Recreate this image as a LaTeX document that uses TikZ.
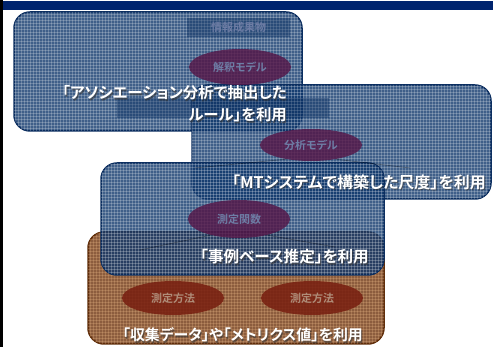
\documentclass[tikz,border=0pt]{standalone}
\usepackage{fontspec}
\newfontfamily\jp{Noto Sans CJK JP}[RawFeature=+palt, BoldFont={Noto Sans CJK JP Bold}]
\usetikzlibrary{shapes.geometric,patterns}
\definecolor{navybar}{RGB}{0,36,110}
\definecolor{boxblue}{RGB}{15,55,108}
\definecolor{boxedge}{RGB}{10,45,95}
\definecolor{boxbrown}{RGB}{115,58,20}
\definecolor{brownedge}{RGB}{95,45,10}
\definecolor{maroon}{RGB}{85,20,70}
\definecolor{redbrown}{RGB}{120,30,15}
\definecolor{fainttxt}{RGB}{110,125,165}
\definecolor{faintbrown}{RGB}{175,140,120}
\tikzset{
  bluebox/.style={draw=boxedge, line width=1.5pt, fill=boxblue, fill opacity=0.8, rounded corners=16pt},
  brownbox/.style={draw=brownedge, line width=1.5pt, fill=boxbrown, fill opacity=0.82, rounded corners=16pt},
  texture/.style={pattern=grid, pattern color=white, opacity=0.22, rounded corners=16pt},
  modelell/.style={ellipse, fill=maroon, fill opacity=0.8, text opacity=1, minimum width=102pt, minimum height=36pt, inner sep=0pt, font=\jp\bfseries\fontsize{11}{12}\selectfont, text=fainttxt},
  methodell/.style={ellipse, fill=redbrown, fill opacity=0.85, text opacity=1, minimum width=102pt, minimum height=34pt, inner sep=0pt, font=\jp\bfseries\fontsize{11}{12}\selectfont, text=faintbrown},
  faintrect/.style={fill=boxedge, fill opacity=0.4, text opacity=1, inner sep=0pt, font=\jp\bfseries\fontsize{11}{12}\selectfont, text=fainttxt},
  lbl/.style={inner sep=0pt, anchor=east, text=white, font=\jp\bfseries\fontsize{15.4}{17}\selectfont},
  shadowlbl/.style={inner sep=0pt, anchor=east, text=black!80, opacity=0.6, font=\jp\bfseries\fontsize{15.4}{17}\selectfont},
  faintline/.style={draw=black, opacity=0.35, line width=0.6pt}
}
\begin{document}
\begin{tikzpicture}[x=1pt,y=-1pt]
\useasboundingbox (0,0) rectangle (493,347);
\fill[white] (0,0) rectangle (493,347);
% frame
\fill[navybar] (0,1) rectangle (493,10);
\fill[black] (0,0) rectangle (2.5,347);

% brown bottom box
\path[brownbox] (88,232) rectangle (384,344);
\path[texture, pattern color=orange!40!white] (88,232) rectangle (384,344);
% blue boxes
\path[bluebox] (14,12) rectangle (302,131);
\path[texture] (14,12) rectangle (302,131);
\path[bluebox] (192,85) rectangle (491,199);
\path[texture] (192,85) rectangle (491,199);
\path[bluebox] (101,163) rectangle (384,275);
\path[texture] (101,163) rectangle (384,275);

% faint hidden rectangles
\node[faintrect, minimum width=103pt, minimum height=19pt] (info) at (238.5,27.5) {情報成果物};
\node[faintrect, minimum width=212pt, minimum height=20pt] (indic) at (223,108) {};

% ellipses
\node[modelell] (interp) at (240,67) {解釈モデル};
\node[modelell, minimum height=32pt] (anal) at (311,145) {分析モデル};
\node[modelell, minimum height=38pt] (func) at (239,219) {測定関数};
\node[methodell] (meth1) at (173,298) {測定方法};
\node[methodell] (meth2) at (312,298) {測定方法};

% faint connector lines
\coordinate (a1) at (195,168);
\coordinate (a2) at (410,168);
\coordinate (f1) at (140,250);
\coordinate (f2) at (335,247);
\draw[faintline] (anal.210) -- (a1);
\draw[faintline] (anal.330) -- (a2);
\draw[faintline] (func.210) -- (f1);
\draw[faintline] (func.330) -- (f2);

% labels with shadow
\node[shadowlbl] at (288,94.5) {「アソシエーション分析で抽出した};
\node[lbl] (t1) at (287,93) {「アソシエーション分析で抽出した};
\node[shadowlbl] at (288,116.5) {ルール」を利用};
\node[lbl] (t2) at (287,115) {ルール」を利用};

\node[shadowlbl, font=\jp\bfseries\fontsize{16}{18}\selectfont] at (487,183.5) {「MTシステムで構築した尺度」を利用};
\node[lbl, font=\jp\bfseries\fontsize{16}{18}\selectfont] (t3) at (486,182) {「MTシステムで構築した尺度」を利用};

\node[shadowlbl, font=\jp\bfseries\fontsize{15.6}{17}\selectfont] at (370,258.5) {「事例ベース推定」を利用};
\node[lbl, font=\jp\bfseries\fontsize{15.6}{17}\selectfont] (t4) at (369,257) {「事例ベース推定」を利用};

\node[shadowlbl, font=\jp\bfseries\fontsize{14.9}{16}\selectfont] at (364,336.5) {「収集データ」や「メトリクス値」を利用};
\node[lbl, font=\jp\bfseries\fontsize{14.9}{16}\selectfont] (t5) at (363,335) {「収集データ」や「メトリクス値」を利用};
\end{tikzpicture}
\end{document}
